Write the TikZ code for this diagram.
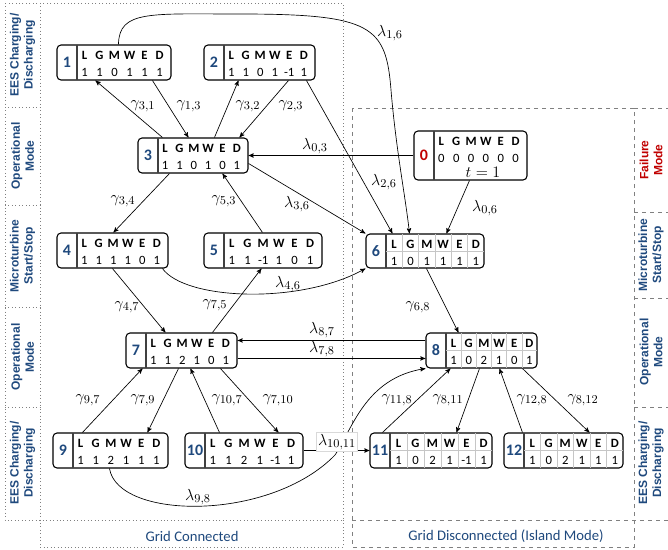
\documentclass[tikz,border=0pt]{standalone}
\usepackage{fontspec}
\setmainfont{Carlito}
\newfontfamily\sidefont{Liberation Sans}
\usepackage{tikz}
\usetikzlibrary{arrows,calc,fit}
\definecolor{mgblue}{RGB}{31,73,125}
\definecolor{mgred}{RGB}{192,0,0}
\tikzset{%
  statebox/.style  = {shape=rectangle, rounded corners=3pt, draw, fill=white,%
                      line width=0.8pt, inner sep=0pt},%
  numline/.style   = {line width=0.8pt, black!75},%
  numtext/.style   = {font=\fontsize{12}{14}\selectfont\bfseries, text=mgblue, inner sep=0pt},%
  headtext/.style  = {font=\fontsize{9.5}{11}\selectfont\bfseries, inner sep=0pt},%
  valtext/.style   = {font=\fontsize{9.5}{11}\selectfont, inner sep=0pt},%
  cellgrid/.style  = {draw=gray!45, line width=0.4pt},%
  nogrid/.style    = {draw=none},%
  transarr/.style  = {->, >=stealth', line width=0.5pt},%
  ratelbl/.style   = {font=\fontsize{12.5}{14}\selectfont, inner sep=1pt},%
  modelbl/.style   = {font=\sidefont\fontsize{9}{10.5}\selectfont\bfseries, text=mgblue,%
                      align=center, rotate=90},%
  gridlbl/.style   = {font=\fontsize{11}{13}\selectfont, text=mgblue},%
  connframe/.style = {draw=gray, dotted, line width=0.6pt},%
  islframe/.style  = {draw=gray, dashed, line width=0.6pt}%
}
% state box: name, number, left, top, right, height, grid style, right pad, values
\newcommand{\mgstate}[9]{%
  \node[statebox, fit={(#3,#4) (#5,#4+#6)}] (#1) {};
  \pgfmathsetmacro\mgxd{#3+20}
  \pgfmathsetmacro\mgcw{(#5-#8-\mgxd)/6}
  \draw[numline] (\mgxd,#4) -- (\mgxd,#4+#6);
  \node[numtext] (#1-n) at ({#3+10},{#4+#6/2}) {#2};
  \foreach \mgh [count=\i] in {L,G,M,W,E,D}
    \node[headtext] (#1-h\i) at ({\mgxd+(\i-0.5)*\mgcw},#4+10) {\mgh};
  \foreach \mgv [count=\i] in {#9}
    \node[valtext] (#1-v\i) at ({\mgxd+(\i-0.5)*\mgcw},#4+27) {\mgv};
  \draw[#7] (\mgxd,{#4+#6/2}) -- (#5,{#4+#6/2});
  \foreach \i in {1,...,5}
    \draw[#7] ({\mgxd+\i*\mgcw},#4) -- ({\mgxd+\i*\mgcw},#4+#6);
}

\begin{document}
\begin{tikzpicture}[x=0.75pt, y=-0.75pt]
  \useasboundingbox (0,0) rectangle (668,550);
  % frames
  \draw[connframe] (5,3) rectangle (343,520);
  \draw[connframe] (40,3) -- (40,547) -- (343,547) -- (343,520);
  \foreach \y in {107,205,307,407}
    \draw[connframe] (5,\y) -- (40,\y);
  \draw[islframe] (352,108) rectangle (634,547);
  \draw[islframe] (634,108) -- (672,108);
  \draw[islframe] (352,520) -- (672,520);
  \foreach \y in {212,298,407}
    \draw[islframe] (634,\y) -- (672,\y);
  % mode labels
  \node[modelbl] (lm1) at (22.5,55)  {EES Charging/\\Discharging};
  \node[modelbl] (lm2) at (22.5,156) {Operational\\Mode};
  \node[modelbl] (lm3) at (22.5,256) {Microturbine\\Start/Stop};
  \node[modelbl] (lm4) at (22.5,357) {Operational\\Mode};
  \node[modelbl] (lm5) at (22.5,463) {EES Charging/\\Discharging};
  \node[modelbl, text=mgred] (rm1) at (651,160) {Failure\\Mode};
  \node[modelbl] (rm2) at (651,255) {Microturbine\\Start/Stop};
  \node[modelbl] (rm3) at (651,352) {Operational\\Mode};
  \node[modelbl] (rm4) at (651,463) {EES Charging/\\Discharging};
  \node[gridlbl] (gc) at (192,536) {Grid Connected};
  \node[gridlbl] (gd) at (506,536) {Grid Disconnected (Island Mode)};
  % states
  \mgstate{s1}{1}{57}{45}{171}{35}{nogrid}{4}{1,1,0,1,1,1}
  \mgstate{s2}{2}{204}{45}{315}{35}{nogrid}{4}{1,1,0,1,-1,1}
  \mgstate{s3}{3}{138}{138}{248}{35}{nogrid}{4}{1,1,0,1,0,1}
  \mgstate{s4}{4}{57}{233}{168}{35}{nogrid}{4}{1,1,1,1,0,1}
  \mgstate{s5}{5}{204}{233}{322}{35}{nogrid}{4}{1,1,-1,1,0,1}
  \mgstate{s0}{\textcolor{mgred}{0}}{414}{131}{527}{49}{nogrid}{4}{0,0,0,0,0,0}
  \node[ratelbl] (t0) at (483,172) {$t=1$};
  \mgstate{s6}{6}{366}{234}{484}{34}{cellgrid}{0}{1,0,1,1,1,1}
  \mgstate{s7}{7}{126}{333}{237}{35}{nogrid}{4}{1,1,2,1,0,1}
  \mgstate{s8}{8}{426}{333}{537}{35}{cellgrid}{0}{1,0,2,1,0,1}
  \mgstate{s9}{9}{53}{433}{168}{35}{nogrid}{4}{1,1,2,1,1,1}
  \mgstate{s10}{10}{185}{433}{303}{35}{nogrid}{4}{1,1,2,1,-1,1}
  \mgstate{s11}{11}{370}{433}{492}{35}{cellgrid}{0}{1,0,2,1,-1,1}
  \mgstate{s12}{12}{504}{433}{623}{35}{cellgrid}{0}{1,0,2,1,1,1}
  % transitions, grid connected
  \draw[transarr] ($(s3.north west)+(25,0)$) -- ($(s1.south west)+(39,0)$);
  \draw[transarr] ($(s1.south west)+(96,0)$) -- ($(s3.north west)+(51,0)$);
  \draw[transarr] ($(s3.north west)+(77,0)$) -- ($(s2.south west)+(35,0)$);
  \draw[transarr] ($(s2.south west)+(85,0)$) -- ($(s3.north west)+(102,0)$);
  \draw[transarr] ($(s3.south west)+(32,0)$) -- ($(s4.north west)+(57,0)$);
  \draw[transarr] ($(s5.north west)+(59,0)$) -- ($(s3.south west)+(85,0)$);
  \draw[transarr] ($(s4.south west)+(56,0)$) -- ($(s7.north west)+(40,0)$);
  \draw[transarr] ($(s7.north west)+(87,0)$) -- ($(s5.south west)+(58,0)$);
  \draw[transarr] ($(s9.north west)+(30,0)$) -- ($(s7.south west)+(17,0)$);
  \draw[transarr] ($(s7.south west)+(53,0)$) -- ($(s9.north west)+(95,0)$);
  \draw[transarr] ($(s10.north west)+(35,0)$) -- ($(s7.south west)+(65,0)$);
  \draw[transarr] ($(s7.south west)+(95,0)$) -- ($(s10.north west)+(94,0)$);
  % transitions to island mode
  \draw[transarr] (s0.west) -- (s3.east);
  \draw[transarr] ($(s2.south west)+(103,0)$) -- ($(s6.north west)+(27,0)$);
  \draw[transarr] ($(s1.north west)+(62,0)$) .. controls (119,10) and (150,14) .. (240,14)
                  .. controls (372,14) and (386,26) .. (391,90)
                  .. controls (396,150) and (406,200) .. ($(s6.north west)+(44,0)$);
  \draw[transarr] ($(s3.north east)+(0,26)$) -- (s6.north west);
  \draw[transarr] ($(s0.south west)+(56,0)$) -- ($(s6.north west)+(81,0)$);
  \draw[transarr] ($(s4.south west)+(106,0)$) .. controls (185,300) and (300,305) .. (s6.south west);
  \draw[transarr] ($(s8.north west)+(0,8)$) -- ($(s7.north east)+(0,8)$);
  \draw[transarr] ($(s7.north east)+(0,26)$) -- ($(s8.north west)+(0,26)$);
  \draw[transarr] ($(s6.south west)+(61,0)$) -- ($(s8.north west)+(33,0)$);
  \draw[transarr] (s10.east) -- (s11.west);
  \draw[transarr] ($(s9.south west)+(57,0)$) .. controls (118,520) and (270,522) .. (335,455)
                  .. controls (352,430) and (365,378) .. (s8.south west);
  % transitions, island mode
  \draw[transarr] ($(s11.north west)+(13,0)$) -- ($(s8.south west)+(25,0)$);
  \draw[transarr] ($(s8.south west)+(54,0)$) -- ($(s11.north west)+(87,0)$);
  \draw[transarr] ($(s12.north west)+(19,0)$) -- ($(s8.south west)+(74,0)$);
  \draw[transarr] ($(s8.south west)+(97,0)$) -- ($(s12.north west)+(86,0)$);
  % rates
  \node[ratelbl] (g31) at (143,106) {$\gamma_{3,1}$};
  \node[ratelbl] (g13) at (189,106) {$\gamma_{1,3}$};
  \node[ratelbl] (g32) at (248,106) {$\gamma_{3,2}$};
  \node[ratelbl] (g23) at (291,106) {$\gamma_{2,3}$};
  \node[ratelbl] (l03) at (315,146) {$\lambda_{0,3}$};
  \node[ratelbl] (l26) at (384,182) {$\lambda_{2,6}$};
  \node[ratelbl] (l16) at (390,33)  {$\lambda_{1,6}$};
  \node[ratelbl] (g34) at (123,201) {$\gamma_{3,4}$};
  \node[ratelbl] (g53) at (224,201) {$\gamma_{5,3}$};
  \node[ratelbl] (l36) at (297,204) {$\lambda_{3,6}$};
  \node[ratelbl] (l06) at (485,208) {$\lambda_{0,6}$};
  \node[ratelbl] (l46) at (288,284) {$\lambda_{4,6}$};
  \node[ratelbl] (g47) at (127,307) {$\gamma_{4,7}$};
  \node[ratelbl] (g75) at (215,305) {$\gamma_{7,5}$};
  \node[ratelbl] (l87) at (322,330) {$\lambda_{8,7}$};
  \node[ratelbl] (l78) at (322,349) {$\lambda_{7,8}$};
  \node[ratelbl] (g68) at (418,307) {$\gamma_{6,8}$};
  \node[ratelbl] (g97) at (88,400)  {$\gamma_{9,7}$};
  \node[ratelbl] (g79) at (143,400) {$\gamma_{7,9}$};
  \node[ratelbl] (g107) at (227,400) {$\gamma_{10,7}$};
  \node[ratelbl] (g710) at (278,400) {$\gamma_{7,10}$};
  \node[ratelbl, fill=white, draw=gray!30] (l1011) at (337,442) {$\lambda_{10,11}$};
  \node[ratelbl] (l98) at (198,497) {$\lambda_{9,8}$};
  \node[ratelbl] (g118) at (397,400) {$\gamma_{11,8}$};
  \node[ratelbl] (g811) at (448,400) {$\gamma_{8,11}$};
  \node[ratelbl] (g128) at (532,400) {$\gamma_{12,8}$};
  \node[ratelbl] (g812) at (583,400) {$\gamma_{8,12}$};
\end{tikzpicture}
\end{document}
